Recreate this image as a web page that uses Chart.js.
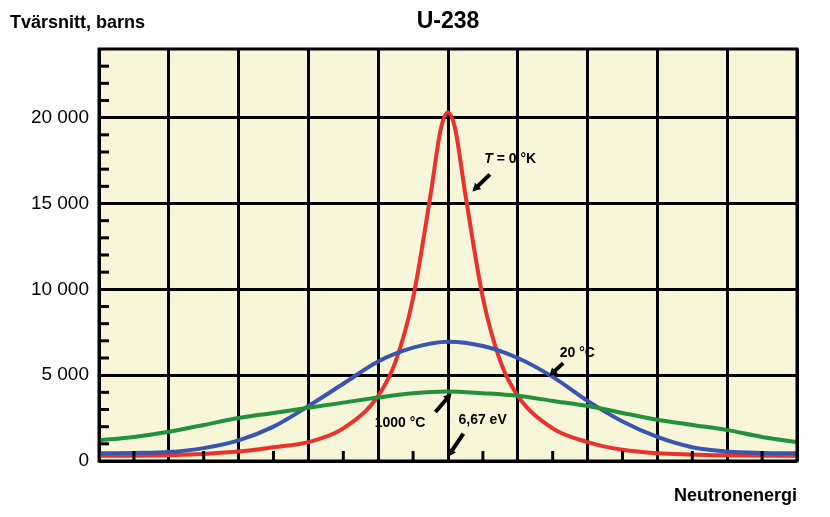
<!DOCTYPE html>
<html>
<head>
<meta charset="utf-8">
<script src="https://cdn.jsdelivr.net/npm/chart.js@4"></script>
<style>
  html, body { margin: 0; padding: 0; background: #fff; }
  #wrap { width: 830px; height: 517px; position: relative; }
</style>
</head>
<body>
<div id="wrap"><canvas id="grafico"></canvas></div>
<script>
// ==========================
// DADOS
// ==========================
const redX   = [0, 1, 2, 2.5, 3, 3.5, 4, 4.25, 4.5, 4.75, 4.9, 5, 5.1, 5.25, 5.5, 5.75, 6, 6.5, 7, 7.5, 8, 9, 10];
const redY   = [300, 330, 550, 800, 1100, 1900, 3800, 5800, 9500, 15500, 19400, 20300, 19400, 15500, 9500, 5800, 3800, 1900, 1100, 650, 450, 330, 300];

const curveX = [0, 0.5, 1, 1.5, 2, 2.5, 3, 3.5, 4, 4.5, 5, 5.5, 6, 6.5, 7, 7.5, 8, 8.5, 9, 9.5, 10];
const blueY  = [450, 470, 520, 750, 1200, 2000, 3200, 4500, 5800, 6600, 6950, 6700, 6000, 4900, 3500, 2300, 1400, 800, 550, 470, 450];
const greenY = [1200, 1400, 1700, 2100, 2500, 2800, 3100, 3400, 3700, 3950, 4050, 3950, 3800, 3500, 3200, 2800, 2400, 2100, 1800, 1400, 1100];

const yMajor = [0, 5000, 10000, 15000, 20000];

const pts = (xs, ys) => xs.map((x, i) => ({ x: x, y: ys[i] }));

// rótulos com setas (coordenadas de dados)
const rotulos = [
    { text: "T = 0 °K", tx: 5.52, ty: 17600, ax: [5.6, 16700], bx: [5.35, 15700], italicT: true },
    { text: "20 °C", tx: 6.6, ty: 6300, ax: [6.65, 5700], bx: [6.45, 4950] },
    { text: "1000 °C", tx: 3.95, ty: 2200, ax: [4.82, 2850], bx: [5.05, 3950] },
    { text: "6,67 eV", tx: 5.15, ty: 2400, ax: [5.22, 1600], bx: [5.0, 250] }
];

// ==========================
// PLUGINS
// ==========================
const fundo = {
    id: "fundo",
    beforeDraw(chart) {
        const { ctx, chartArea: a } = chart;
        ctx.save();
        ctx.fillStyle = "#f8f6d9";
        ctx.fillRect(a.left, a.top, a.right - a.left, a.bottom - a.top);
        ctx.restore();
    }
};

function seta(ctx, x1, y1, x2, y2) {
    const ang = Math.atan2(y2 - y1, x2 - x1);
    const h = 9;
    ctx.beginPath();
    ctx.moveTo(x1, y1);
    ctx.lineTo(x2 - Math.cos(ang) * h * 0.8, y2 - Math.sin(ang) * h * 0.8);
    ctx.lineWidth = 4;
    ctx.strokeStyle = "#000";
    ctx.stroke();
    ctx.beginPath();
    ctx.moveTo(x2, y2);
    ctx.lineTo(x2 - h * Math.cos(ang - 0.5), y2 - h * Math.sin(ang - 0.5));
    ctx.lineTo(x2 - h * Math.cos(ang + 0.5), y2 - h * Math.sin(ang + 0.5));
    ctx.closePath();
    ctx.fillStyle = "#000";
    ctx.fill();
}

const extras = {
    id: "extras",
    afterDatasetsDraw(chart) {
        const { ctx, chartArea: a, scales } = chart;
        const sx = scales.x, sy = scales.y;
        ctx.save();
        // tiques menores
        ctx.strokeStyle = "#000";
        ctx.lineWidth = 3;
        for (let v = 1000; v <= 23000; v += 1000) {
            if (v % 5000 === 0) continue;
            const y = sy.getPixelForValue(v);
            ctx.beginPath(); ctx.moveTo(a.left, y); ctx.lineTo(a.left + 10, y); ctx.stroke();
        }
        for (let v = 0.5; v < 10; v += 1) {
            const x = sx.getPixelForValue(v);
            ctx.beginPath(); ctx.moveTo(x, a.bottom); ctx.lineTo(x, a.bottom - 10); ctx.stroke();
        }
        // moldura
        ctx.lineWidth = 3;
        ctx.strokeRect(a.left, a.top, a.right - a.left, a.bottom - a.top);

        // rótulos
        ctx.fillStyle = "#000";
        ctx.textBaseline = "middle";
        rotulos.forEach(r => {
            const x = sx.getPixelForValue(r.tx), y = sy.getPixelForValue(r.ty);
            ctx.textAlign = "left";
            if (r.italicT) {
                ctx.font = "italic bold 14px Liberation Sans, Arial";
                ctx.fillText("T", x, y);
                const w = ctx.measureText("T").width;
                ctx.font = "bold 14px Liberation Sans, Arial";
                ctx.fillText(" = 0 °K", x + w, y);
            } else {
                ctx.font = "bold 14px Liberation Sans, Arial";
                ctx.fillText(r.text, x, y);
            }
            seta(ctx, sx.getPixelForValue(r.ax[0]), sy.getPixelForValue(r.ax[1]),
                      sx.getPixelForValue(r.bx[0]), sy.getPixelForValue(r.bx[1]));
        });

        // títulos
        ctx.textBaseline = "alphabetic";
        ctx.font = "bold 18px Liberation Sans, Arial";
        ctx.textAlign = "left";
        ctx.fillText("Tvärsnitt, barns", 10, 28);
        ctx.font = "bold 23px Liberation Sans, Arial";
        ctx.textAlign = "center";
        ctx.fillText("U-238", sx.getPixelForValue(5), 28);
        ctx.font = "bold 18px Liberation Sans, Arial";
        ctx.textAlign = "right";
        ctx.fillText("Neutronenergi", a.right, 501);
        ctx.restore();
    }
};

// ==========================
// GRÁFICO
// ==========================
const linha = (dados, cor) => ({
    data: dados,
    borderColor: cor,
    borderWidth: 4,
    pointRadius: 0,
    cubicInterpolationMode: "monotone",
    fill: false
});

new Chart(document.getElementById("grafico"), {
    type: "line",
    data: {
        datasets: [
            linha(pts(curveX, greenY), "#23913a"),
            linha(pts(curveX, blueY), "#3a55b0"),
            linha(pts(redX, redY), "#e8322b")
        ]
    },
    options: {
        responsive: true,
        maintainAspectRatio: false,
        animation: false,
        layout: { padding: { left: 0, top: 49, right: 33, bottom: 56 } },
        plugins: { legend: { display: false }, tooltip: { enabled: false } },
        scales: {
            x: {
                type: "linear",
                min: 0, max: 10,
                border: { display: false },
                ticks: { display: false, stepSize: 1 },
                grid: { color: "#000", lineWidth: 3, drawTicks: false },
                afterFit: s => { s.height = 0; }
            },
            y: {
                min: 0, max: 24000,
                border: { display: false },
                afterFit: s => { s.width = 99; },
                ticks: {
                    stepSize: 1000,
                    autoSkip: false,
                    padding: 10,
                    color: "#000",
                    font: { size: 19, family: "Liberation Sans, Arial" },
                    callback: v => yMajor.includes(v) ? (v >= 10000 ? String(v).slice(0, -3) + " 000" : v === 5000 ? "5 000" : "0") : ""
                },
                grid: {
                    drawTicks: false,
                    lineWidth: 3,
                    color: c => (c.tick && c.tick.value % 5000 === 0) ? "#000" : "rgba(0,0,0,0)"
                }
            }
        }
    },
    plugins: [fundo, extras]
});
</script>
</body>
</html>
